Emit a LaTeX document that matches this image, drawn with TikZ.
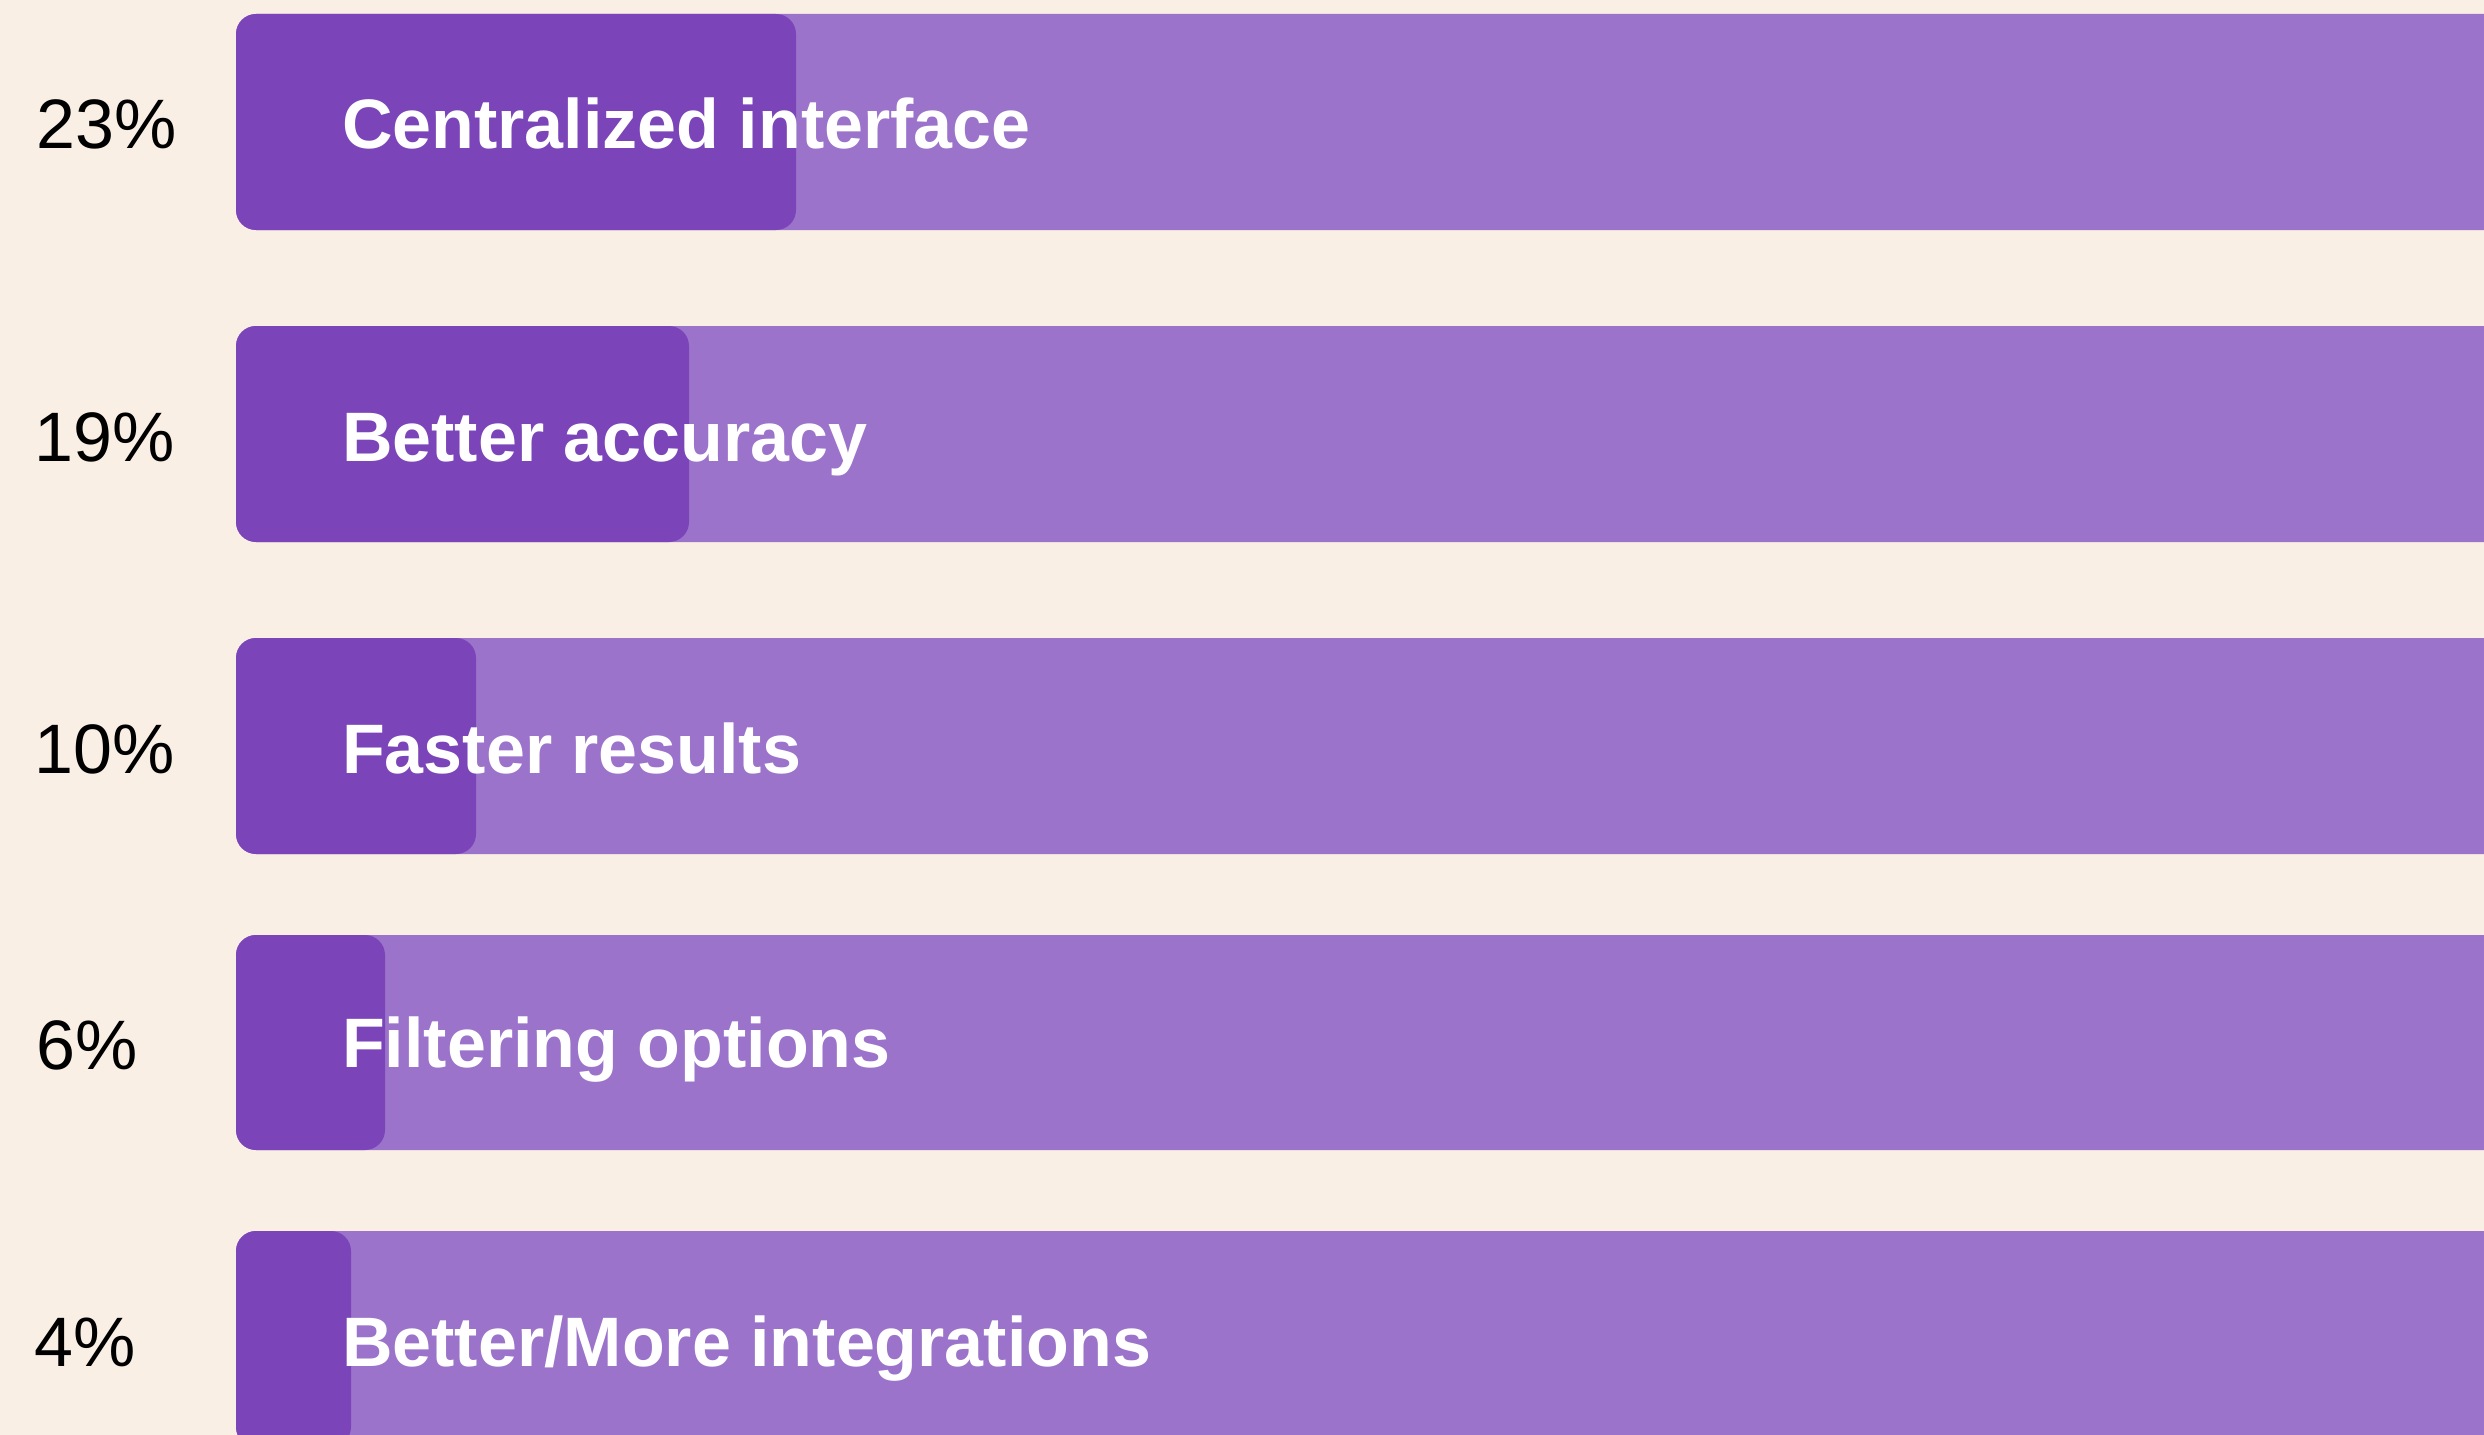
\documentclass[tikz,border=0pt]{standalone}
\usepackage{fontspec}
\setmainfont{Liberation Sans}
\definecolor{bgcream}{HTML}{F9EFE4}
\definecolor{barlight}{HTML}{9C73CA}
\definecolor{bardark}{HTML}{7B45B9}
\tikzset{
  lightbar/.style={fill=barlight, rounded corners=20bp},
  darkbar/.style={fill=bardark, rounded corners=20bp},
  pct/.style={anchor=base west, inner sep=0pt, text=black, font=\fontsize{70bp}{80bp}\selectfont},
  lab/.style={anchor=base west, inner sep=0pt, text=white, font=\fontsize{70bp}{80bp}\selectfont\bfseries},
}
\begin{document}
\begin{tikzpicture}[x=1bp,y=-1bp]
\useasboundingbox (0,0) rectangle (2484,1435);
\clip (0,0) rectangle (2484,1435);
\fill[bgcream] (0,0) rectangle (2484,1435);
% row 1
\fill[lightbar] (236,14) rectangle (2540,230);
\fill[darkbar] (236,14) rectangle (796,230);
\node[pct] (p1) at (36,149) {23\%};
\node[lab] (l1) at (342,149) {Centralized interface};
% row 2
\fill[lightbar] (236,326) rectangle (2540,542);
\fill[darkbar] (236,326) rectangle (689,542);
\node[pct] (p2) at (34,461) {19\%};
\node[lab] (l2) at (342,461) {Better accuracy};
% row 3
\fill[lightbar] (236,638) rectangle (2540,854);
\fill[darkbar] (236,638) rectangle (476,854);
\node[pct] (p3) at (34,773) {10\%};
\node[lab] (l3) at (342,773) {Faster results};
% row 4
\fill[lightbar] (236,935) rectangle (2540,1150);
\fill[darkbar] (236,935) rectangle (385,1150);
\node[pct] (p4) at (36,1069) {6\%};
\node[lab] (l4) at (342,1067) {Filtering options};
% row 5
\fill[lightbar] (236,1231) rectangle (2540,1447);
\fill[darkbar] (236,1231) rectangle (351,1447);
\node[pct] (p5) at (34,1366) {4\%};
\node[lab] (l5) at (342,1366) {Better/More integrations};
\end{tikzpicture}
\end{document}
